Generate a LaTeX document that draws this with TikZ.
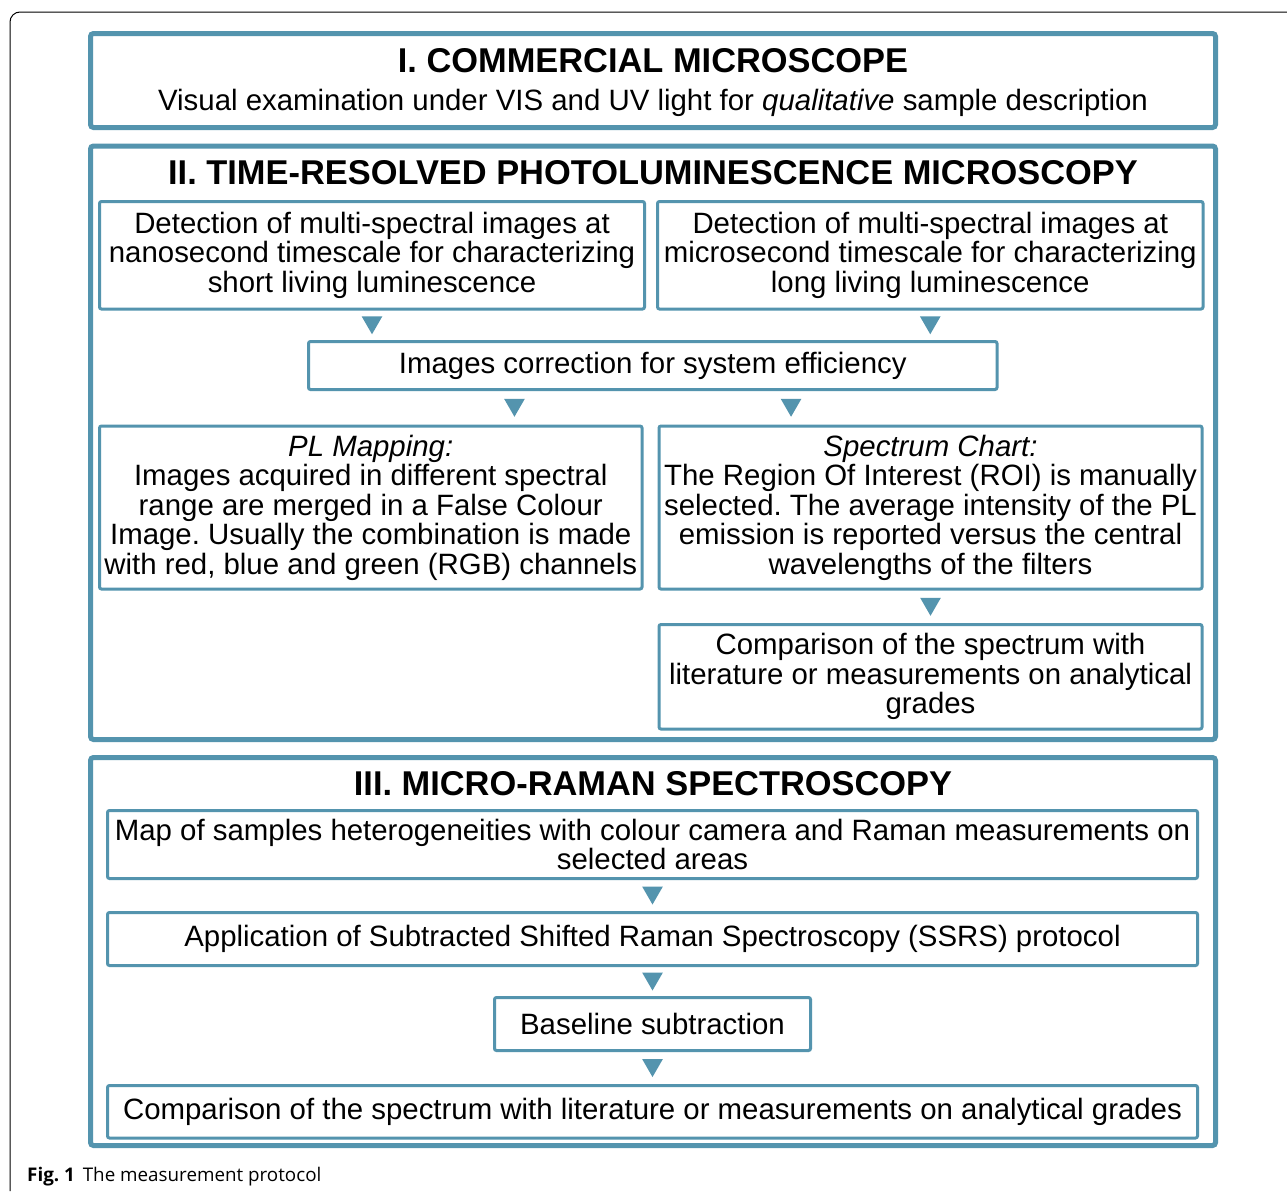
\documentclass[tikz,border=0pt]{standalone}
\usepackage{fontspec}
\setmainfont{Liberation Sans}
\newfontfamily\capfont{Open Sans}
\usetikzlibrary{shapes.geometric,calc}
\definecolor{protblue}{RGB}{84,148,174}
\frenchspacing

\begin{document}
\begin{tikzpicture}[x=1pt,y=-1pt,
    every node/.style={font=\fontsize{29.4}{29.5}\selectfont},
    secbox/.style={draw=protblue,line width=5pt,rounded corners=3pt,inner sep=0pt},
    stepbox/.style={draw=protblue,line width=3pt,rounded corners=2pt,align=center,inner sep=0pt},
    sectitle/.style={anchor=base,font=\fontsize{34.4}{36}\selectfont\bfseries},
    tri/.style={regular polygon,regular polygon sides=3,shape border rotate=180,
      fill=protblue,inner sep=0pt,minimum size=24pt,yshift=3pt}]
    \fill[white] (0,0) rectangle (1287,1191);
    \useasboundingbox (0,0) rectangle (1287,1191);
    \draw[line width=1pt,rounded corners=10pt] (1287,12) -- (10,12) -- (10,1191);% page frame
    % I
    \node[secbox,minimum width=1125pt,minimum height=94pt] (sec1) at (653,80.5) {};
    \node[sectitle] (t1) at (653,72) {I. COMMERCIAL MICROSCOPE};
    \node[anchor=base] (s1) at (653,110) {Visual examination under VIS and UV light for \emph{qualitative} sample description};
    % II
    \node[secbox,minimum width=1125pt,minimum height=593.5pt] (sec2) at (653,442.75) {};
    \node[sectitle] (t2) at (653,184) {II. TIME-RESOLVED PHOTOLUMINESCENCE MICROSCOPY};
    \node[stepbox,minimum width=545pt,minimum height=107.5pt] (nano) at (372,255.25)
      {Detection of multi-spectral images at\\nanosecond timescale for characterizing\\short living luminescence};
    \node[stepbox,minimum width=545.5pt,minimum height=107.5pt] (micro) at (930.25,255.25)
      {Detection of multi-spectral images at\\microsecond timescale for characterizing\\long living luminescence};
    \node[stepbox,minimum width=688.5pt,minimum height=48pt] (corr) at (652.75,365.5)
      {Images correction for system efficiency};
    \node[stepbox,minimum width=542.5pt,minimum height=163pt] (plmap) at (370.75,507.5)
      {\emph{PL Mapping:}\\Images acquired in different spectral\\range are merged in a False Colour\\Image. Usually the combination is made\\with red, blue and green (RGB) channels};
    \node[stepbox,minimum width=543pt,minimum height=163pt] (spec) at (930.5,507.5)
      {\emph{Spectrum Chart:}\\The Region Of Interest (ROI) is manually\\selected. The average intensity of the PL\\emission is reported versus the central\\wavelengths of the filters};
    \node[stepbox,minimum width=543pt,minimum height=104.5pt] (comp1) at (930.5,676.75)
      {Comparison of the spectrum with\\literature or measurements on analytical\\grades};
    \path (nano.south) -- node[tri] (a1) {} (nano.south |- corr.north);
    \path (micro.south) -- node[tri] (a2) {} (micro.south |- corr.north);
    \coordinate (c1) at ($(corr.south west)!.3!(corr.south east)$);
    \coordinate (c2) at ($(corr.south west)!.7!(corr.south east)$);
    \path (c1) -- node[tri] (a3) {} (c1 |- plmap.north);
    \path (c2) -- node[tri] (a4) {} (c2 |- spec.north);
    \path (spec.south) -- node[tri] (a5) {} (spec.south |- comp1.north);
    % III
    \node[secbox,minimum width=1125pt,minimum height=388pt] (sec3) at (653,951.5) {};
    \node[sectitle] (t3) at (653,795) {III. MICRO-RAMAN SPECTROSCOPY};
    \node[stepbox,minimum width=1090pt,minimum height=68pt] (map) at (652.5,844.5)
      {Map of samples heterogeneities with colour camera and Raman measurements on\\selected areas};
    \node[stepbox,minimum width=1090pt,minimum height=53pt] (ssrs) at (652.5,939)
      {Application of Subtracted Shifted Raman Spectroscopy (SSRS) protocol};
    \node[stepbox,minimum width=316pt,minimum height=53pt] (base) at (652.5,1024)
      {Baseline subtraction};
    \node[stepbox,minimum width=1090pt,minimum height=52.5pt] (comp2) at (652.5,1111.75)
      {Comparison of the spectrum with literature or measurements on analytical grades};
    \path (map.south) -- node[tri] (a6) {} (map.south |- ssrs.north);
    \path (ssrs.south) -- node[tri] (a7) {} (ssrs.south |- base.north);
    \path (base.south) -- node[tri] (a8) {} (base.south |- comp2.north);
    % caption
    \node[anchor=base west,inner sep=0pt,font=\fontsize{18.8}{22}\capfont] (cap) at (27,1181)
      {\textbf{Fig. 1}\hspace{8pt}The measurement protocol};
\end{tikzpicture}
\end{document}
